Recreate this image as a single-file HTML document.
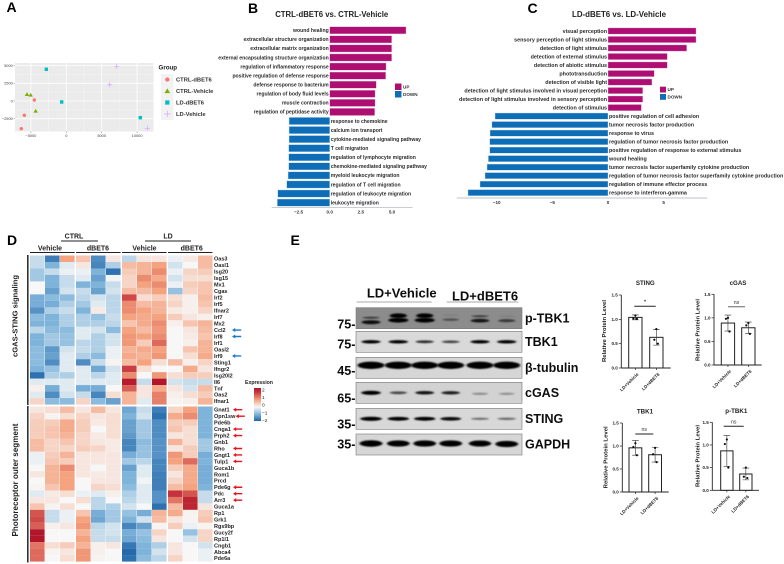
<!DOCTYPE html>
<html lang="en">
<head>
<meta charset="utf-8">
<title>Multi-panel figure</title>
<style>
html,body{margin:0;padding:0;background:#fff;width:784px;height:564px;overflow:hidden}
svg{display:block;font-family:"Liberation Sans",sans-serif}
</style>
</head>
<body>
<svg id="fig" xmlns="http://www.w3.org/2000/svg" width="784" height="564" viewBox="0 0 784 564">
<defs>
<filter id="b1" x="-30%" y="-120%" width="160%" height="340%"><feGaussianBlur stdDeviation="1 0.7"/></filter>
<filter id="b2" x="0" y="0" width="100%" height="100%"><feGaussianBlur stdDeviation="0.35"/></filter>
<linearGradient id="exprGrad" x1="0" y1="0" x2="0" y2="1">
<stop offset="0" stop-color="#b2182b"/><stop offset="0.12" stop-color="#c5323b"/><stop offset="0.36" stop-color="#f5a27f"/><stop offset="0.58" stop-color="#f7f7f7"/><stop offset="0.8" stop-color="#7fb4da"/><stop offset="1" stop-color="#1f63a8"/>
</linearGradient>
</defs>
<g id="root" filter="url(#b2)"></g>
</svg>
<script>
// Panel A data
const pcaGroups = ['CTRL-dBET6','CTRL-Vehicle','LD-dBET6','LD-Vehicle'];
const pcaCtrlDbetX = [-4520,-5930,-6360];
const pcaCtrlDbetY = [140,-2020,-3910];
const pcaCtrlVehX = [-5550,-5030,-4320];
const pcaCtrlVehY = [950,850,-1410];
const pcaLdDbetX = [-2820,-650,10450];
const pcaLdDbetY = [4480,-140,-2360];
const pcaLdVehX = [7120,6130,11440];
const pcaLdVehY = [4900,2300,-3860];
const pcaXTicks = [-5000,0,5000,10000];
const pcaYTicks = [-2500,0,2500,5000];

// Panel B data
const goBTerms = ['wound healing','extracellular structure organization','extracellular matrix organization','external encapsulating structure organization','regulation of inflammatory response','positive regulation of defense response','defense response to bacterium','regulation of body fluid levels','muscle contraction','regulation of peptidase activity','response to chemokine','calcium ion transport','cytokine-mediated signaling pathway','T cell migration','regulation of lymphocyte migration','chemokine-mediated signaling pathway','myeloid leukocyte migration','regulation of T cell migration','regulation of leukocyte migration','leukocyte migration'];
const goBValues = [6.12,4.97,4.97,4.97,4.52,4.49,3.74,3.64,3.64,3.61,-3.26,-3.26,-3.26,-3.29,-3.29,-3.29,-3.34,-3.45,-4.17,-4.2];
const goBTicks = [-2.5,0,2.5,5];
const goBTickLabels = ['−2.5','0.0','2.5','5.0'];

// Panel C data
const goCTerms = ['visual perception','sensory perception of light stimulus','detection of light stimulus','detection of external stimulus','detection of abiotic stimulus','phototransduction','detection of visible light','detection of light stimulus involved in visual perception','detection of light stimulus involved in sensory perception','detection of stimulus','positive regulation of cell adhesion','tumor necrosis factor production','response to virus','regulation of tumor necrosis factor production','positive regulation of response to external stimulus','wound healing','tumor necrosis factor superfamily cytokine production','regulation of tumor necrosis factor superfamily cytokine production','regulation of immune effector process','response to interferon-gamma'];
const goCValues = [7.91,7.91,7.07,5.33,5.33,4.16,3.95,3.12,3.12,3.0,-10.15,-10.43,-10.6,-10.63,-10.63,-10.75,-10.87,-11.05,-11.5,-12.58];
const goCTicks = [-10,-5,0,5];
const goCTickLabels = ['−10','−5','0','5'];

// Panel D data
const topGenes = ['Oas3','Oasl1','Isg20','Isg15','Mx1','Cgas','Irf2','Irf5','Ifnar2','Irf7','Mx2','Ccl2','Irf8','Irf1','Oasl2','Irf9','Sting1','Ifngr2','Isg20l2','Il6','Tnf','Oas2','Ifnar1'];
const topMatrix = [
[-0.4,-1.8,1.0,0.6,-1.6,0.2,-0.5,0.2,0.2,-0.1,0.15,0.7],
[-0.4,-1.0,-0.2,0.2,-1.7,-0.6,0.7,0.8,1.0,-0.3,0,0.7],
[-0.7,-0.4,-0.1,-0.1,-1.0,-2.0,0.5,0.8,1.2,-0.1,0.4,0.5],
[-0.7,-1.0,-0.4,-0.2,-1.3,-0.05,0.4,1.2,0.9,-0.3,0.3,0.3],
[0,-1.0,-0.4,-1,-1,-0.4,0.4,1.0,1.2,-0.1,0.5,0.6],
[0,-1.3,-0.3,-0.4,-1.3,-0.3,0.7,0.7,1.0,-0.8,0.4,0.6],
[-1.1,-0.9,-0.9,-0.5,-0.3,-0.5,1.8,0.3,0.5,0.3,0.1,0.7],
[-1.1,-1.1,-0.6,-0.7,-0.2,-0.5,1.2,0.7,0.8,0.4,0.1,0.6],
[-1.5,-0.6,-0.4,-1,0.15,-0.5,1.2,1,0.8,0.15,0.1,0.4],
[-0.9,-1,-0.6,-0.6,-0.8,-0.4,1,0.9,1,0.5,0.2,0.1],
[-1,-1,-0.6,-0.6,-0.6,-0.5,0.6,0.9,1.2,0.1,0.6,0.8],
[-0.5,-0.9,-0.9,-0.2,-0.3,-0.9,1,0.7,1.1,0,0.2,0.7],
[-1,-0.7,-0.8,-0.2,-0.6,-0.3,1.1,1,1.2,0,0.15,0.6],
[-1,-0.7,-0.8,-0.5,-0.6,-0.3,1.1,0.5,1.5,0,0.1,0.8],
[-0.9,-1.4,-0.3,-0.4,-0.6,-0.1,0.8,0.9,1,0,0.6,0.8],
[-0.9,-1.3,-0.2,-0.6,-0.9,-0.1,0.9,0.8,1.1,0,0.3,0.9],
[-0.9,-1.6,-0.2,-1.6,-0.4,0.05,0.7,1,0.3,0.7,0.1,0.4],
[-1,-0.8,-0.2,-0.2,-1.2,-0.3,1.9,0.3,0,0,0.9,0.2],
[-2,-0.6,-0.6,-0.2,-0.5,-0.2,1.2,0,1.1,0.3,0.5,0.5],
[-0.2,-0.2,-0.2,-0.2,-0.2,-0.2,2.3,-0.4,2.4,-0.3,-0.4,-0.4],
[0.1,-1.1,-0.2,-1.1,-1.1,0,1.6,0.2,0.9,0.2,-0.3,0.7],
[-0.2,-1.6,-0.3,-0.4,-1.7,0.3,0.8,0.2,1.3,0.1,0.3,0.5],
[0.4,-0.9,-0.9,0.4,-0.9,-1.3,0.8,-0.2,1.3,0.05,0.1,0.8]];
const bottomGenes = ['Gnat1','Opn1sw','Pde6b','Cnga1','Prph2','Gnb1','Rho','Gngt1','Tulp1','Guca1b','Rom1','Prcd','Pde6g','Pdc','Arr3','Guca1a','Rp1','Grk1','Rgs9bp','Gucy2f','Rp1l1','Cngb1','Abca4','Pde6a'];
const bottomMatrix = [
[0.2,0.3,0.7,0.2,0.7,0.2,-1.2,-0.4,-1.8,0.4,1,-1],
[0.4,0.05,0.3,0.4,0.2,0.3,-1,-0.3,-2,0.9,1.2,-1],
[0.5,0.5,0.9,0.5,0.15,0.3,-1.3,-0.7,-1.6,0.5,0.5,-1],
[0.5,0.6,0.9,0.5,0,0.3,-1.3,-0.7,-1.6,0.6,0.3,-1],
[0.5,0.6,0.8,0.4,0.15,0.3,-1.4,-0.7,-1.6,0.2,0.3,-1],
[0.7,0.4,0.6,0.4,0.2,0.15,-1.7,-0.9,-1.5,0.8,0.3,-0.7],
[0.7,0.4,0.4,0.5,0.4,0.15,-1.7,-0.8,-1.5,0.2,0.5,-0.7],
[-0.1,0.5,0.8,0.2,0.2,0.2,-1.1,-0.8,-1.5,1.1,0.5,-1.1],
[-0.1,0.6,0.5,0.2,0.2,0.2,-0.7,-0.5,-1.7,1,1.5,-1],
[0,0.8,1.2,0.2,0,0.2,-1.3,-0.2,-1.7,0.5,0.9,-1.1],
[0.2,0.8,1,0.2,0.15,0.2,-1,-0.2,-1.8,0.2,0.9,-1.1],
[0,0.8,1,0,0.2,0.2,-1,-0.05,-1.8,0.4,0.9,-1.1],
[0.05,0.6,1,0,0.4,0.3,-0.9,-0.2,-1.8,0.7,1,-1],
[-0.2,0.15,0.3,-0.1,-0.2,0.1,-0.6,-0.2,-1.5,2,1.7,-0.4],
[0.2,0.2,0,0.3,-0.5,0,-0.5,-0.2,-1.5,1.4,2.2,-0.4],
[0.6,0.05,0.3,0,-0.5,-0.6,-0.3,0,-2,0.7,2.2,0.2],
[1.7,-0.4,-0.1,0.6,-1.1,-0.7,-0.8,-1.1,0.8,0.9,0.05,0.5],
[1.8,-0.4,-0.1,1,-1.2,-0.7,-1,-0.3,0.7,0.2,0.05,0.6],
[1.6,0.1,0.2,1.1,-0.5,-0.3,-1.7,-1.3,0.05,0.5,-0.1,0.05],
[2.4,0,0,0.8,-0.4,-0.3,-1.1,-0.8,0.4,0,-0.8,0.4],
[2.4,0,0,1,-0.4,-0.4,-1.2,-0.9,0.2,0,-0.3,0.4],
[1.4,0.3,0.5,0.8,0.1,0.2,-1.9,-1,-0.6,0.2,0,-0.3],
[1.5,0.05,0.2,1.1,0.1,0,-2.1,-1,-0.3,0.2,0,-0.1],
[1.5,0,0.3,1.1,0.05,0,-2,-0.9,-0.5,0.4,0,-0.1]];
const blueArrowGenes = ['Ccl2','Irf8','Irf9'];
const redArrowGenes = ['Gnat1','Opn1sw','Cnga1','Prph2','Rho','Gngt1','Tulp1','Pde6g','Pdc','Arr3'];
const exprTicks = [2,1,0,-1,-2];

// Panel E blot data (band intensity per lane)
const blotNames = ['p-TBK1','TBK1','β-tubulin','cGAS','STING','GAPDH'];
const blotMarkers = ['75-','75-','45-','65-','35-','35-'];
const pTbk1Bands = [0.75,1,1,0.28,0.7,0.45];
const tbk1Bands = [0.85,0.9,0.65,0.55,0.85,0.9];
const tubulinBands = [1,1,1,1,1,1];
const cgasBands = [0.95,0.5,0.75,0.7,0.22,0.2];
const stingBands = [0.97,0.88,0.88,0.8,0.32,0.36];
const gapdhBands = [1,0.95,0.95,0.97,0.92,0.97];

// Panel E bar chart data
const barGroups = ['LD+Vehicle','LD+dBET6'];
const barTicks = [0,0.5,1,1.5];
const stingMeans = [1.04,0.63];
const stingErrors = [0.05,0.16];
const stingPointsA = [1.08,1.02,1.01];
const stingPointsB = [0.8,0.58,0.5];
const cgasMeans = [0.89,0.79];
const cgasErrors = [0.17,0.12];
const cgasPointsA = [1.0,0.98,0.71];
const cgasPointsB = [0.89,0.84,0.66];
const tbk1Means = [0.96,0.81];
const tbk1Errors = [0.16,0.16];
const tbk1PointsA = [1.06,0.98,0.8];
const tbk1PointsB = [0.96,0.82,0.65];
const pTbk1Means = [0.87,0.36];
const pTbk1Errors = [0.34,0.13];
const pTbk1PointsA = [1.12,1.02,0.5];
const pTbk1PointsB = [0.5,0.3,0.27];

const NS='http://www.w3.org/2000/svg';
const root=document.getElementById('root');
function el(tag,attrs,parent){
  const e=document.createElementNS(NS,tag);
  for(const k in attrs)e.setAttribute(k,attrs[k]);
  (parent||root).appendChild(e);
  return e;
}
function txt(x,y,s,size,opts,parent){
  const o=opts||{};
  const a={x:x,y:y,'font-size':size,'font-weight':o.w||'bold',fill:o.f||'#222','text-anchor':o.a||'start',dy:'0.35em'};
  if(o.t)a.transform=o.t;
  if(o.len){a.textLength=o.len;a.lengthAdjust='spacingAndGlyphs';}
  const e=el('text',a,parent);
  e.textContent=s;
  return e;
}
function groupOf(name){
  const g=el('g',{});
  
  
  return g;
}
function letter(x,y,s,name){
  const t=txt(x,y,s,14,{f:'#000'});
  
  
}
letter(6.5,7,'A','panel-a-label');
letter(248,8,'B','panel-b-label');
letter(527.5,8,'C','panel-c-label');
letter(7,240,'D','panel-d-label');
letter(290.5,240,'E','panel-e-label');

// ===== Panel A =====
(function(){
  const g=groupOf('pca-scatter');
  const px=v=>66.3+v/5000*35.4;
  const py=v=>101-v/2500*17.7;
  const bg=el('rect',{x:15,y:63,width:138.5,height:68.5,fill:'#ebebeb'},g);
  
  
  pcaXTicks.forEach(v=>{
    el('line',{x1:px(v),x2:px(v),y1:63,y2:131.5,stroke:'#fff','stroke-width':0.8},g);
    if(px(v+2500)<153)el('line',{x1:px(v+2500),x2:px(v+2500),y1:63,y2:131.5,stroke:'#f6f6f6','stroke-width':0.4},g);
    el('line',{x1:px(v),x2:px(v),y1:131.5,y2:133,stroke:'#555','stroke-width':0.4},g);
    const t=txt(px(v),135.5,(v<0?'−':'')+Math.abs(v),3.9,{a:'middle',w:'normal',f:'#444'},g);
    
    
  });
  pcaYTicks.forEach(v=>{
    el('line',{x1:15,x2:153.5,y1:py(v),y2:py(v),stroke:'#fff','stroke-width':0.8},g);
    if(py(v+1250)>63)el('line',{x1:15,x2:153.5,y1:py(v+1250),y2:py(v+1250),stroke:'#f6f6f6','stroke-width':0.4},g);
    el('line',{x1:13.6,x2:15,y1:py(v),y2:py(v),stroke:'#555','stroke-width':0.4},g);
    const t=txt(12.8,py(v),(v<0?'−':'')+Math.abs(v),3.9,{a:'end',w:'normal',f:'#444'},g);
    
    
  });
  function mark(kind,x,y,s,parent){
    if(kind===0)return el('circle',{cx:x,cy:y,r:1.7*s,fill:'#F8766D'},parent);
    if(kind===1)return el('path',{d:`M${x} ${y-2.1*s}L${x+2.2*s} ${y+1.7*s}L${x-2.2*s} ${y+1.7*s}Z`,fill:'#7CAE00'},parent);
    if(kind===2)return el('rect',{x:x-1.7*s,y:y-1.7*s,width:3.4*s,height:3.4*s,fill:'#00BFC4'},parent);
    return el('path',{d:`M${x-2.6*s} ${y}H${x+2.6*s}M${x} ${y-2.6*s}V${y+2.6*s}`,stroke:'#D7A6FF','stroke-width':0.7,fill:'none'},parent);
  }
  [[pcaCtrlDbetX,pcaCtrlDbetY],[pcaCtrlVehX,pcaCtrlVehY],[pcaLdDbetX,pcaLdDbetY],[pcaLdVehX,pcaLdVehY]].forEach((s,k)=>{
    s[0].forEach((xv,i)=>{
      const m=mark(k,px(xv),py(s[1][i]),1,g);
      
      
    });
  });
  const lt=txt(158.5,67.5,'Group',6.2,{f:'#222'},g);
  
  
  el('rect',{x:161,y:74,width:12.5,height:46,fill:'#f2f2f2'},g);
  pcaGroups.forEach((n,i)=>{
    const y=79.5+i*11.5;
    mark(i,167.3,y,1.25,g);
    const t=txt(176,y,n,5.8,{f:'#333'},g);
    
    
  });
})();

// ===== Panels B, C =====
function goChart(name,terms,vals,ticks,labels,c){
  const g=groupOf(name);
  const px=v=>c.zero+v*c.unit;
  const tt=txt(c.titleX,14,c.title,8,{a:'middle',f:'#222',len:c.titleLen},g);
  
  
  terms.forEach((term,i)=>{
    const v=vals[i],y=c.top+i*c.step;
    const up=v>=0;
    const b=el('rect',{x:Math.min(px(0),px(v)),y:y-c.h/2,width:Math.abs(px(v)-px(0)),height:c.h,fill:up?'#AE0A72':'#0F6DB6',stroke:up?'#e9c4dc':'#c4dcee','stroke-width':0.4},g);
    
    
    const t=txt(up?px(0)-1:px(0)+1,y,term,c.fs,{a:up?'end':'start',f:'#2b2b2b'},g);
    
    
  });
  const ax=el('line',{x1:c.ax0,x2:c.ax1,y1:c.axY,y2:c.axY,stroke:'#aab0b6','stroke-width':0.7},g);
  
  
  ticks.forEach((v,i)=>{
    const t=txt(px(v),c.axY+4.3,labels[i],4.6,{a:'middle',f:'#333'},g);
    
    
  });
  [['UP','#AE0A72',c.ly0],['DOWN','#0F6DB6',c.ly1]].forEach(k=>{
    const r=el('rect',{x:c.lx,y:k[2],width:c.lw,height:c.lh,fill:k[1]},g);
    
    
    const t=txt(c.lx+c.lw+1.5,k[2]+c.lh/2,k[0],4.6,{f:'#333'},g);
    
    
  });
}
goChart('go-chart-b',goBTerms,goBValues,goBTicks,goBTickLabels,{title:'CTRL-dBET6 vs. CTRL-Vehicle',titleX:331.7,titleLen:113,zero:329.7,unit:12.47,top:30.3,step:9.07,h:7.2,fs:5.1,ax0:271.7,ax1:412.7,axY:207.7,lx:395,lw:6.5,lh:6.5,ly0:83.5,ly1:91});
goChart('go-chart-c',goCTerms,goCValues,goCTicks,goCTickLabels,{title:'LD-dBET6 vs. LD-Vehicle',titleX:619,titleLen:94,zero:608,unit:11.13,top:31,step:8.51,h:6.2,fs:5.4,ax0:456.7,ax1:707.3,axY:198,lx:660,lw:6,lh:5.8,ly0:86.7,ly1:94});

// ===== Panel D =====
const heatStops=[[-2.2,[31,99,168]],[-1,[127,180,218]],[0,[247,247,247]],[1,[245,162,127]],[2,[197,50,59]],[2.4,[178,24,43]]];
function heatColor(v){
  if(v<=heatStops[0][0])return 'rgb('+heatStops[0][1].join(',')+')';
  for(let i=1;i<heatStops.length;i++){
    if(v<=heatStops[i][0]){
      const a=heatStops[i-1],b=heatStops[i],t=(v-a[0])/(b[0]-a[0]);
      return 'rgb('+a[1].map((c,j)=>Math.round(c+(b[1][j]-c)*t)).join(',')+')';
    }
  }
  return 'rgb(178,24,43)';
}
const colStarts=[30,45,60,76,91,106,122,137,152,168,183,198];
(function(){
  const g=groupOf('expression-heatmap');
  function block(genes,matrix,top,step,blockName){
    matrix.forEach((row,r)=>{
      row.forEach((v,c)=>{
        const cell=el('rect',{x:colStarts[c],y:top+r*step,width:14.6,height:step+0.05,fill:heatColor(v)},g);
        
        
      });
      const y=top+(r+0.5)*step;
      const t=txt(214,y,genes[r],5.5,{f:'#222'},g);
      
      
      const blue=blueArrowGenes.includes(genes[r]),red=redArrowGenes.includes(genes[r]);
      if(blue||red){
        const tw=genes[r].length*3.1+214;
        const x0=blue?232:Math.max(233,tw+3);
        const col=blue?'#1f78c8':'#e8141c';
        const a=el('path',{d:`M${x0} ${y}l3.2 -2v1.3h6v1.4h-6v1.3z`,fill:col},g);
        
        
      }
    });
  }
  block(topGenes,topMatrix,255.5,6.48,'cgas-sting');
  block(bottomGenes,bottomMatrix,406.5,6.46,'photoreceptor');
  [[27,255,405],[27,406,562.5]].forEach(b=>{
    const l=el('rect',{x:b[0],y:b[1],width:1.6,height:b[2]-b[1],fill:'#333'},g);
    
    
  });
  [['CTRL',74,236,61,98,241],['LD',168,236,145,191,241],['Vehicle',50,248,30,74.7,252.5],['dBET6',98,248,76,120.6,252.5],['Vehicle',144.5,248,122,166.6,252.5],['dBET6',191.7,248,168,212.4,252.5]].forEach(h=>{
    const t=txt(h[1],h[2],h[0],7,{a:'middle',f:'#222'},g);
    
    
    const l=el('line',{x1:h[3],x2:h[4],y1:h[5],y2:h[5],stroke:'#222','stroke-width':0.9},g);
    
    
  });
  const s1=txt(15,316,'cGAS-STING signaling',7.6,{a:'middle',f:'#222',t:'rotate(-90 15 316)',len:82},g);
  
  
  const s2=txt(15.5,480,'Photoreceptor outer segment',7.8,{a:'middle',f:'#222',t:'rotate(-90 15.5 480)',len:113},g);
  
  
  const et=txt(245,382.3,'Expression',5.2,{f:'#222'},g);
  
  
  const eb=el('rect',{x:254,y:388,width:7,height:33,fill:'url(#exprGrad)'},g);
  
  
  exprTicks.forEach(v=>{
    const t=txt(262,405-v*7.6,(v<0?'−':'')+Math.abs(v),4.8,{f:'#222',w:'normal'},g);
    
    
  });
})();

// ===== Panel E: blots =====
(function(){
  const g=groupOf('western-blot');
  const laneX=[371,398.3,424.7,450.7,480,506.7];
  const rows=[
    {y:307.7,bg:'#8c8c8c',bands:pTbk1Bands,by:[4,2,2,1.5,2.5,2.5],bw:20,bh:3.4,double:true,my:324.3},
    {y:331.3,bg:'#d9d9d9',bands:tbk1Bands,by:[0,0,0,0,0,0],bw:20,bh:2.6,my:344.3},
    {y:357.3,bg:'#d6d6d6',bands:tubulinBands,by:[-2.5,-2.5,-2.5,-2.5,-2.5,-2.5],bw:27,bh:5.2,my:370.7},
    {y:382.3,bg:'#d2d2d2',bands:cgasBands,by:[0,0,0,0,1,1],bw:20,bh:3,my:398},
    {y:408.3,bg:'#d8d8d8',bands:stingBands,by:[0,0,0,0,0,0],bw:22,bh:3,my:424},
    {y:434,bg:'#d6d6d6',bands:gapdhBands,by:[-1,-1,-1,-1,-1,-0.5],bw:23,bh:4.6,my:444.3}
  ];
  rows.forEach((r,i)=>{
    const b=el('rect',{x:356,y:r.y,width:166,height:21,fill:r.bg,stroke:'#777','stroke-width':0.6},g);
    
    
    r.bands.forEach((v,j)=>{
      const cy=r.y+10.5+r.by[j];
      const e=el('ellipse',{cx:laneX[j],cy:cy,rx:r.bw/2*(0.75+0.25*v),ry:r.bh/2*(0.5+v*0.9),fill:'#000','fill-opacity':Math.min(1,0.15+v),filter:'url(#b1)'},g);
      
      
      if(r.double){
        const e2=el('ellipse',{cx:laneX[j],cy:cy-4.5,rx:r.bw/2*0.85,ry:r.bh/2*(v>0.9?1.4:0.45),fill:'#000','fill-opacity':v>0.6?v:0.1,filter:'url(#b1)'},g);
        
        
      }
    });
    const n=txt(525,r.y+10.2,blotNames[i],12.5,{f:'#111'},g);
    
    
    const m=txt(355.5,r.my,blotMarkers[i],12.6,{a:'end',f:'#111'},g);
    
    
  });
  [['LD+Vehicle',401.7,293,356.7,431.7],['LD+dBET6',485,296,446.7,518.3]].forEach(h=>{
    const t=txt(h[1],h[2],h[0],13,{a:'middle',f:'#111'},g);
    
    
    const l=el('line',{x1:h[3],x2:h[4],y1:302,y2:302,stroke:'#555','stroke-width':0.6},g);
    
    
  });
})();

// ===== Panel E: bar charts =====
function barChart(name,title,means,errs,ptsA,ptsB,c){
  const g=groupOf(name);
  const py=v=>c.y0-v/1.5*(c.y0-c.y15);
  const t0=txt(c.titleX,c.titleY,title,6.2,{a:'middle',f:'#222'},g);
  
  
  const yt=txt(c.ytX,c.ytY,'Relative Protein Level',5.6,{a:'middle',f:'#222',t:`rotate(-90 ${c.ytX} ${c.ytY})`,len:62},g);
  
  
  const ya=el('line',{x1:c.ax,x2:c.ax,y1:c.y15,y2:c.y0,stroke:'#222','stroke-width':0.9},g);
  
  
  const xa=el('line',{x1:c.ax,x2:c.axEnd,y1:c.y0,y2:c.y0,stroke:'#222','stroke-width':0.9},g);
  
  
  barTicks.forEach(v=>{
    el('line',{x1:c.ax-2.5,x2:c.ax,y1:py(v),y2:py(v),stroke:'#222','stroke-width':0.7},g);
    const t=txt(c.ax-3.5,py(v),v.toFixed(1),4.5,{a:'end',f:'#222'},g);
    
    
  });
  [ptsA,ptsB].forEach((pts,i)=>{
    const bx=c.bx[i],w=c.bw,cx=bx+w/2;
    const bar=el('rect',{x:bx,y:py(means[i]),width:w,height:c.y0-py(means[i]),fill:'#fff',stroke:'#222','stroke-width':1},g);
    
    
    const hi=py(means[i]+errs[i]),lo=py(means[i]-errs[i]);
    const er=el('path',{d:`M${cx} ${hi}V${lo}M${cx-3.3} ${hi}H${cx+3.3}M${cx-3.3} ${lo}H${cx+3.3}`,stroke:'#333','stroke-width':0.6,fill:'none'},g);
    
    
    pts.forEach((v,k)=>{
      const p=el('circle',{cx:cx+[0,-2,1.5][k],cy:py(v),r:1.1,fill:'#111'},g);
      
      
    });
    el('line',{x1:cx,x2:cx,y1:c.y0,y2:c.y0+2,stroke:'#222','stroke-width':0.7},g);
    const lx=cx+2.4,ly=c.y0+5.5;
    const lab=txt(lx,ly,barGroups[i],4.5,{a:'end',f:'#222',t:`rotate(-45 ${lx} ${ly})`},g);
    
    
  });
  const s=el('line',{x1:c.s0,x2:c.s1,y1:c.sy,y2:c.sy,stroke:c.sCol,'stroke-width':1},g);
  
  
  const st=txt((c.s0+c.s1)/2,c.sy-4.6,c.sig,5.2,{a:'middle',f:'#333',w:c.sig==='*'?'bold':'normal'},g);
  
  
}
barChart('sting-chart','STING',stingMeans,stingErrors,stingPointsA,stingPointsB,{titleX:645.3,titleY:283,ytX:604,ytY:331,ax:621.3,axEnd:670.7,y0:368,y15:295,bx:[628.7,649.7],bw:13.3,s0:634.3,s1:655.7,sy:306.3,sig:'*',sCol:'#222'});
barChart('cgas-chart','cGAS',cgasMeans,cgasErrors,cgasPointsA,cgasPointsB,{titleX:738,titleY:282.7,ytX:697.3,ytY:330,ax:714,axEnd:761.7,y0:365,y15:294.3,bx:[721.3,741.7],bw:13.3,s0:728,s1:745,sy:306.7,sig:'ns',sCol:'#666'});
barChart('tbk1-chart','TBK1',tbk1Means,tbk1Errors,tbk1PointsA,tbk1PointsB,{titleX:645,titleY:411.3,ytX:605.7,ytY:457.3,ax:622.3,axEnd:668.7,y0:492,y15:423,bx:[629,648.7],bw:12.8,s0:635.3,s1:653.3,sy:434,sig:'ns',sCol:'#222'});
barChart('p-tbk1-chart','p-TBK1',pTbk1Means,pTbk1Errors,pTbk1PointsA,pTbk1PointsB,{titleX:736.3,titleY:411,ytX:697.7,ytY:456,ax:712.3,axEnd:759,y0:490.3,y15:422.3,bx:[720.7,739.7],bw:12.3,s0:723.7,s1:743.7,sy:426.3,sig:'ns',sCol:'#222'});
</script>
</body>
</html>
